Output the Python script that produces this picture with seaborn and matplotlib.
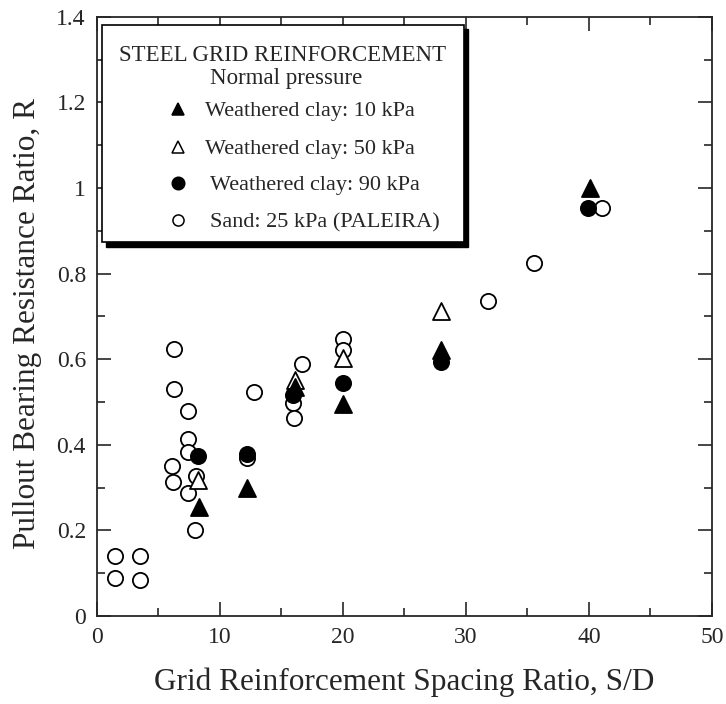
import matplotlib
matplotlib.use("Agg")
import matplotlib.pyplot as plt
from matplotlib.patches import Rectangle
from matplotlib.ticker import MultipleLocator, FuncFormatter
import seaborn as sns

# Weathered clay, normal pressure 10 kPa (filled triangles)
clay10_sd = [8.3, 12.2, 16.1, 20.0, 28.0, 40.1]
clay10_r = [0.255, 0.300, 0.535, 0.495, 0.622, 1.000]

# Weathered clay, normal pressure 50 kPa (open triangles)
clay50_sd = [8.2, 16.1, 20.0, 28.0]
clay50_r = [0.318, 0.551, 0.603, 0.713]

# Weathered clay, normal pressure 90 kPa (filled circles)
clay90_sd = [8.2, 12.2, 15.9, 20.0, 28.0, 39.9]
clay90_r = [0.374, 0.378, 0.516, 0.544, 0.594, 0.953]

# Sand, 25 kPa (Palmeira)
sand_sd = [1.5, 3.5, 1.5, 3.5, 6.3, 6.3, 7.4, 7.4, 7.4, 6.1, 8.05, 6.2, 7.4, 8.0,
           12.2, 12.8, 16.7, 15.9, 16.0, 20.0, 20.0, 31.8, 35.5, 41.1]
sand_r = [0.140, 0.140, 0.088, 0.085, 0.624, 0.530, 0.479, 0.414, 0.383, 0.350, 0.327,
          0.313, 0.287, 0.200, 0.370, 0.523, 0.589, 0.497, 0.462, 0.647, 0.621, 0.736,
          0.825, 0.953]

legend_title = ["STEEL GRID REINFORCEMENT", "Normal pressure"]
legend_labels = ["Weathered clay: 10 kPa", "Weathered clay: 50 kPa",
                 "Weathered clay: 90 kPa", "Sand: 25 kPa (PALEIRA)"]

sns.set_style("ticks")
plt.rcParams["font.family"] = ["Liberation Serif", "DejaVu Serif"]

fig = plt.figure(figsize=(7.26, 7.04), dpi=100)
ax = fig.add_axes([0.1336, 0.125, 0.847, 0.851])

lw = 1.3
sns.scatterplot(x=sand_sd, y=sand_r, ax=ax, marker="o", s=120, facecolor="white",
                edgecolor="black", linewidth=lw, zorder=3)
sns.scatterplot(x=clay50_sd, y=clay50_r, ax=ax, marker="^", s=150, facecolor="white",
                edgecolor="black", linewidth=lw, zorder=4)
sns.scatterplot(x=clay10_sd, y=clay10_r, ax=ax, marker="^", s=150, facecolor="black",
                edgecolor="black", linewidth=lw, zorder=5)
sns.scatterplot(x=clay90_sd, y=clay90_r, ax=ax, marker="o", s=120, facecolor="black",
                edgecolor="black", linewidth=lw, zorder=6)

ax.set_xlim(0, 50)
ax.set_ylim(0, 1.4)
ax.xaxis.set_major_locator(MultipleLocator(10))
ax.xaxis.set_minor_locator(MultipleLocator(5))
ax.yaxis.set_major_locator(MultipleLocator(0.2))
ax.yaxis.set_minor_locator(MultipleLocator(0.1))
ax.yaxis.set_major_formatter(FuncFormatter(lambda v, p: f"{v:g}"))

for s in ax.spines.values():
    s.set_visible(True)
    s.set_linewidth(1.3)
ax.tick_params(which="both", direction="in", top=True, right=True, width=1.2,
               labelsize=17)
ax.tick_params(axis="x", pad=8)
ax.tick_params(axis="y", pad=8)
ax.tick_params(which="major", length=10)
ax.tick_params(which="minor", length=6)

ax.set_xlabel("Grid Reinforcement Spacing Ratio, S/D", fontsize=22.5, labelpad=14)
ax.set_ylabel("Pullout Bearing Resistance Ratio, R", fontsize=22.5, labelpad=10)
ax.yaxis.label.set_y(0.488)

# Legend panel with hard black shadow
bx0, by0, bw, bh = 0.008, 0.624, 0.589, 0.363
sh = Rectangle((bx0 + 0.007, by0 - 0.008), bw, bh, transform=ax.transAxes,
               facecolor="black", edgecolor="black", zorder=8)
box = Rectangle((bx0, by0), bw, bh, transform=ax.transAxes, facecolor="white",
                edgecolor="black", linewidth=1.2, zorder=9)
ax.add_patch(sh)
ax.add_patch(box)

ax.text(bx0 + bw / 2, 0.936, legend_title[0], transform=ax.transAxes, ha="center",
        va="center", fontsize=16.5, zorder=10)
ax.text(bx0 + bw / 2 + 0.005, 0.897, legend_title[1], transform=ax.transAxes,
        ha="center", va="center", fontsize=16.5, zorder=10)

row_y = [0.842, 0.779, 0.719, 0.657]
mk = [("^", "black"), ("^", "white"), ("o", "black"), ("o", "white")]
msz = [9, 9, 9, 8]
text_x = [0.175, 0.175, 0.183, 0.183]
for (m, fc), y, lab, ms, tx in zip(mk, row_y, legend_labels, msz, text_x):
    ax.plot([0.131], [y + 0.004], transform=ax.transAxes, marker=m, markersize=ms,
            markerfacecolor=fc, markeredgecolor="black", markeredgewidth=1.1,
            linestyle="none", zorder=10, clip_on=False)
    ax.text(tx, y, lab, transform=ax.transAxes, ha="left", va="center",
            fontsize=16, zorder=10)

fig.savefig("out.png", dpi=100)
